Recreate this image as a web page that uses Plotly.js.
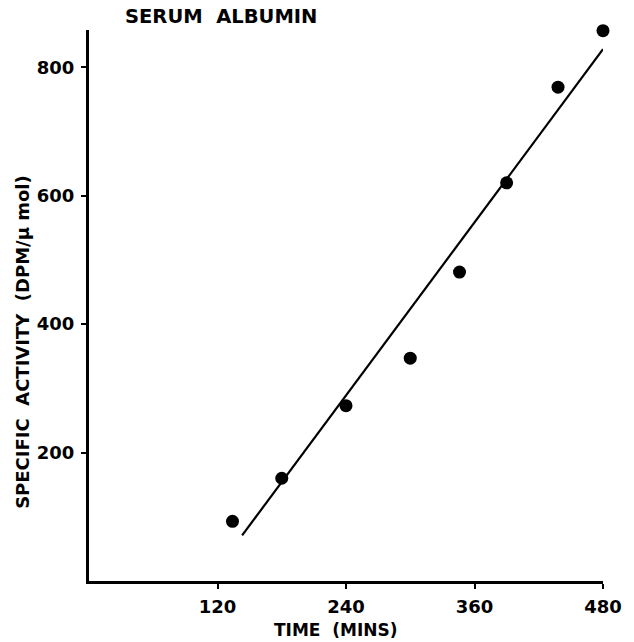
<!DOCTYPE html>
<html>
<head>
<meta charset="utf-8">
<script src="https://cdn.plot.ly/plotly-3.0.1.min.js"></script>
<style>html,body{margin:0;padding:0;background:#fff;}#chart{width:634px;height:642px;}</style>
</head>
<body>
<div id="chart"></div>
<script>
// Data
var timeMins = [134, 180, 240, 300, 346, 390, 438, 480];
var specificActivity = [93, 160, 273, 347, 481, 620, 769, 857];
// Fitted straight line (end points)
var fitTime = [143, 480];
var fitActivity = [71, 828];
var xTicks = [120, 240, 360, 480];
var yTicks = [200, 400, 600, 800];

var FONT = "DejaVu Sans, Liberation Sans, Arial, sans-serif";

var traces = [
  {
    x: fitTime, y: fitActivity, mode: 'lines', type: 'scatter',
    line: {color: '#000', width: 2.2}, hoverinfo: 'skip', cliponaxis: false
  },
  {
    x: timeMins, y: specificActivity, mode: 'markers', type: 'scatter',
    marker: {color: '#000', size: 13}, cliponaxis: false
  }
];

var layout = {
  width: 634, height: 642,
  margin: {l: 89, r: 31, t: 30, b: 61},
  paper_bgcolor: '#fff', plot_bgcolor: '#fff',
  showlegend: false,
  font: {family: FONT, color: '#000'},
  xaxis: {
    range: [0, 480], tickvals: xTicks, ticktext: xTicks.map(String),
    showgrid: false, zeroline: false, showline: true, linecolor: '#000', linewidth: 3,
    ticks: 'outside', ticklen: 5, tickwidth: 2, tickcolor: '#000',
    ticklabelstandoff: 2,
    tickfont: {family: FONT, size: 18, weight: 'bold', color: '#000'}
  },
  yaxis: {
    range: [0, 858], tickvals: yTicks, ticktext: yTicks.map(String),
    showgrid: false, zeroline: false, showline: true, linecolor: '#000', linewidth: 3,
    ticks: 'outside', ticklen: 5, tickwidth: 2, tickcolor: '#000',
    ticklabelstandoff: 3,
    tickfont: {family: FONT, size: 18, weight: 'bold', color: '#000'}
  },
  annotations: [
    {
      text: 'SERUM  ALBUMIN', xref: 'paper', yref: 'paper', x: 0.066, y: 1, yshift: 14,
      xanchor: 'left', yanchor: 'middle', showarrow: false,
      font: {family: FONT, size: 19.5, weight: 'bold', color: '#000'}
    },
    {
      text: 'TIME  (MINS)', xref: 'paper', yref: 'paper', x: 0.48, y: -0.089,
      xanchor: 'center', yanchor: 'middle', showarrow: false,
      font: {family: FONT, size: 17, weight: 'bold', color: '#000'}
    },
    {
      text: 'SPECIFIC  ACTIVITY  (DPM/µ mol)', xref: 'paper', yref: 'paper', x: 0, xshift: -66, y: 0.434,
      xanchor: 'center', yanchor: 'middle', textangle: -90, showarrow: false,
      font: {family: FONT, size: 18, weight: 'bold', color: '#000'}
    }
  ]
};

Plotly.newPlot('chart', traces, layout, {displayModeBar: false, staticPlot: true});
</script>
</body>
</html>
